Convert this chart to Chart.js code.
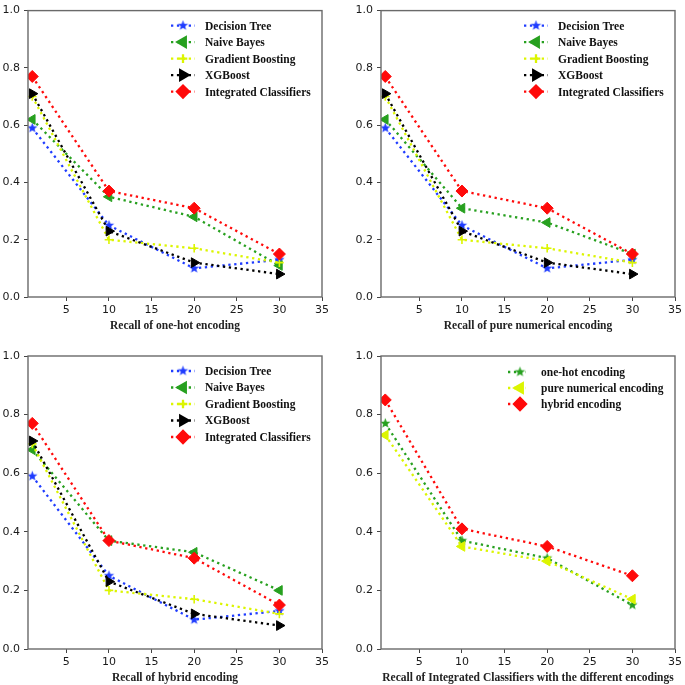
<!DOCTYPE html>
<html>
<head>
<meta charset="utf-8">
<script src="https://cdn.jsdelivr.net/npm/chart.js@4.4.1/dist/chart.umd.min.js"></script>
<style>
  body { margin: 0; background: #fff; }
  #wrap { position: relative; width: 685px; height: 685px; }
  canvas { position: absolute; }
</style>
</head>
<body>
<div id="wrap">
  <canvas id="c1" width="342" height="340" style="left:0;top:0"></canvas>
  <canvas id="c2" width="343" height="340" style="left:342px;top:0"></canvas>
  <canvas id="c3" width="342" height="345" style="left:0;top:340px"></canvas>
  <canvas id="c4" width="343" height="345" style="left:342px;top:340px"></canvas>
</div>
<script>
// recall values, x = number of top results
const recallAt = [1, 10, 20, 30];
const xTicks = [5, 10, 15, 20, 25, 30, 35];
const yTicks = [0, 0.2, 0.4, 0.6, 0.8, 1.0];

const classifierNames = ['Decision Tree', 'Naive Bayes', 'Gradient Boosting', 'XGBoost', 'Integrated Classifiers'];
const encodingNames = ['one-hot encoding', 'pure numerical encoding', 'hybrid encoding'];

const oneHotDT = [0.59, 0.25, 0.10, 0.13];
const oneHotNB = [0.62, 0.35, 0.28, 0.11];
const oneHotGB = [0.70, 0.20, 0.17, 0.12];
const oneHotXGB = [0.71, 0.23, 0.12, 0.08];
const oneHotIC = [0.77, 0.37, 0.31, 0.15];

const pureNumDT = [0.59, 0.25, 0.10, 0.13];
const pureNumNB = [0.62, 0.31, 0.26, 0.15];
const pureNumGB = [0.70, 0.20, 0.17, 0.12];
const pureNumXGB = [0.71, 0.23, 0.12, 0.08];
const pureNumIC = [0.77, 0.37, 0.31, 0.15];

const hybridDT = [0.59, 0.25, 0.10, 0.13];
const hybridNB = [0.68, 0.37, 0.33, 0.20];
const hybridGB = [0.70, 0.20, 0.17, 0.12];
const hybridXGB = [0.71, 0.23, 0.12, 0.08];
const hybridIC = [0.77, 0.37, 0.31, 0.15];

const icOneHot = [0.77, 0.37, 0.31, 0.15];
const icPureNum = [0.73, 0.35, 0.30, 0.17];
const icHybrid = [0.85, 0.41, 0.35, 0.25];

const BLUE = '#1f3cff', GREEN = '#27a01f', YELLOW = '#dcf500', BLACK = '#000000', RED = '#ff0a0a';
const DOTS = [2.3, 3.6];

// filled 5-point star like matplotlib '*'
function makeStar(color, r) {
    let c = document.createElement('canvas');
    let s = Math.ceil(r * 2 + 2);
    c.width = s; c.height = s;
    let g = c.getContext('2d');
    g.fillStyle = color;
    g.beginPath();
    for (let i = 0; i < 10; i++) {
        let rr = i % 2 === 0 ? r : r * 0.42;
        let a = -Math.PI / 2 + i * Math.PI / 5;
        let px = s / 2 + rr * Math.cos(a), py = s / 2 + rr * Math.sin(a);
        if (i === 0) g.moveTo(px, py); else g.lineTo(px, py);
    }
    g.closePath();
    g.fill();
    return c;
}

const markers = {
    star: (color) => ({ pointStyle: makeStar(color, 5.4), rotation: 0, radius: 5, borderWidth: 0 }),
    left: () => ({ pointStyle: 'triangle', rotation: -90, radius: 5.6, borderWidth: 1 }),
    right: () => ({ pointStyle: 'triangle', rotation: 90, radius: 5.6, borderWidth: 1 }),
    plus: () => ({ pointStyle: 'cross', rotation: 0, radius: 4.3, borderWidth: 1.6 }),
    diamond: () => ({ pointStyle: 'rectRot', rotation: 0, radius: 6, borderWidth: 1 })
};

function makeDataset(label, values, color, markerKind, idx, total) {
    let m = markers[markerKind](color);
    return {
        label: label,
        data: values.map((v, i) => ({ x: recallAt[i], y: v })),
        borderColor: color,
        backgroundColor: color,
        borderWidth: 2.3,
        borderDash: DOTS,
        borderCapStyle: 'butt',
        pointStyle: m.pointStyle,
        pointRotation: m.rotation,
        pointRadius: m.radius,
        pointBorderWidth: m.borderWidth,
        pointBackgroundColor: color,
        pointBorderColor: color,
        fill: false,
        tension: 0,
        order: total - 1 - idx
    };
}

// frame, x title and a matplotlib-like legend
const panelDecor = {
    id: 'panelDecor',
    afterDraw(chart, args, opts) {
        let ctx = chart.ctx;
        let a = chart.chartArea;
        ctx.save();
        ctx.strokeStyle = '#6a6a6a';
        ctx.lineWidth = 1.4;
        ctx.strokeRect(a.left, a.top, a.right - a.left, a.bottom - a.top);

        ctx.fillStyle = '#222';
        ctx.font = 'bold 11.5px "Liberation Serif", "Times New Roman", serif';
        ctx.textAlign = 'center';
        ctx.textBaseline = 'middle';
        ctx.fillText(opts.title, (a.left + a.right) / 2, a.bottom + 29);

        chart.data.datasets.forEach((ds, i) => {
            let y = a.top + opts.legendTop + i * opts.legendStep;
            let mx = a.right - opts.markerFromRight;
            ctx.save();
            ctx.strokeStyle = ds.borderColor;
            ctx.lineWidth = 2.3;
            ctx.setLineDash(DOTS);
            ctx.beginPath();
            ctx.moveTo(mx - 12, y);
            ctx.lineTo(mx + opts.lineRight, y);
            ctx.stroke();
            ctx.setLineDash([]);
            ctx.fillStyle = ds.borderColor;
            ctx.strokeStyle = ds.borderColor;
            Chart.helpers.drawPoint(ctx, {
                pointStyle: ds.pointStyle,
                rotation: ds.pointRotation,
                radius: ds.pointRadius,
                borderWidth: ds.pointBorderWidth
            }, mx, y);
            ctx.restore();
            ctx.fillStyle = '#111';
            ctx.textAlign = 'left';
            ctx.fillText(ds.label, a.right - opts.textFromRight, y + 1);
        });
        ctx.restore();
    }
};

function drawPanel(id, datasets, title, yAxisW, xAxisH, padTop, padRight, legend) {
    let ctx = document.getElementById(id).getContext('2d');
    return new Chart(ctx, {
        type: 'line',
        data: { datasets: datasets },
        options: {
            responsive: false,
            animation: false,
            devicePixelRatio: 1,
            layout: { padding: { top: padTop, right: padRight, left: 0, bottom: 0 } },
            plugins: {
                legend: { display: false },
                tooltip: { enabled: false },
                panelDecor: Object.assign({ title: title }, legend)
            },
            scales: {
                x: {
                    type: 'linear',
                    min: 0.5,
                    max: 35,
                    afterBuildTicks: (s) => { s.ticks = xTicks.map(v => ({ value: v })); },
                    afterFit: (s) => { s.height = xAxisH; },
                    grid: { drawOnChartArea: false, tickLength: 4, color: '#444' },
                    border: { display: false },
                    ticks: { font: { family: 'DejaVu Sans', size: 11 }, color: '#1a1a1a', padding: 3, maxRotation: 0 }
                },
                y: {
                    min: 0,
                    max: 1,
                    afterBuildTicks: (s) => { s.ticks = yTicks.map(v => ({ value: v })); },
                    afterFit: (s) => { s.width = yAxisW; },
                    grid: { drawOnChartArea: false, tickLength: 4, color: '#444' },
                    border: { display: false },
                    ticks: {
                        font: { family: 'DejaVu Sans', size: 11 }, color: '#1a1a1a', padding: 4,
                        callback: (v) => Number(v).toFixed(1)
                    }
                }
            }
        },
        plugins: [panelDecor]
    });
}

const clfColors = [BLUE, GREEN, YELLOW, BLACK, RED];
const clfMarkers = ['star', 'left', 'plus', 'right', 'diamond'];
const clfLegend = { legendTop: 15, legendStep: 16.5, markerFromRight: 139, lineRight: 12, textFromRight: 117 };

function classifierSets(series) {
    return series.map((vals, i) => makeDataset(classifierNames[i], vals, clfColors[i], clfMarkers[i], i, series.length));
}

drawPanel('c1', classifierSets([oneHotDT, oneHotNB, oneHotGB, oneHotXGB, oneHotIC]),
    'Recall of one-hot encoding', 28, 43, 5, 20, clfLegend);
drawPanel('c2', classifierSets([pureNumDT, pureNumNB, pureNumGB, pureNumXGB, pureNumIC]),
    'Recall of pure numerical encoding', 39, 43, 5, 10, clfLegend);
drawPanel('c3', classifierSets([hybridDT, hybridNB, hybridGB, hybridXGB, hybridIC]),
    'Recall of hybrid encoding', 28, 36, 16, 20, clfLegend);

const encColors = [GREEN, YELLOW, RED];
const encMarkers = ['star', 'left', 'diamond'];
const encSets = [icOneHot, icPureNum, icHybrid].map((vals, i) =>
    makeDataset(encodingNames[i], vals, encColors[i], encMarkers[i], i, 3));
drawPanel('c4', encSets, 'Recall of Integrated Classifiers with the different encodings', 39, 36, 16, 10,
    { legendTop: 16, legendStep: 16, markerFromRight: 155, lineRight: 6, textFromRight: 134 });
</script>
</body>
</html>
